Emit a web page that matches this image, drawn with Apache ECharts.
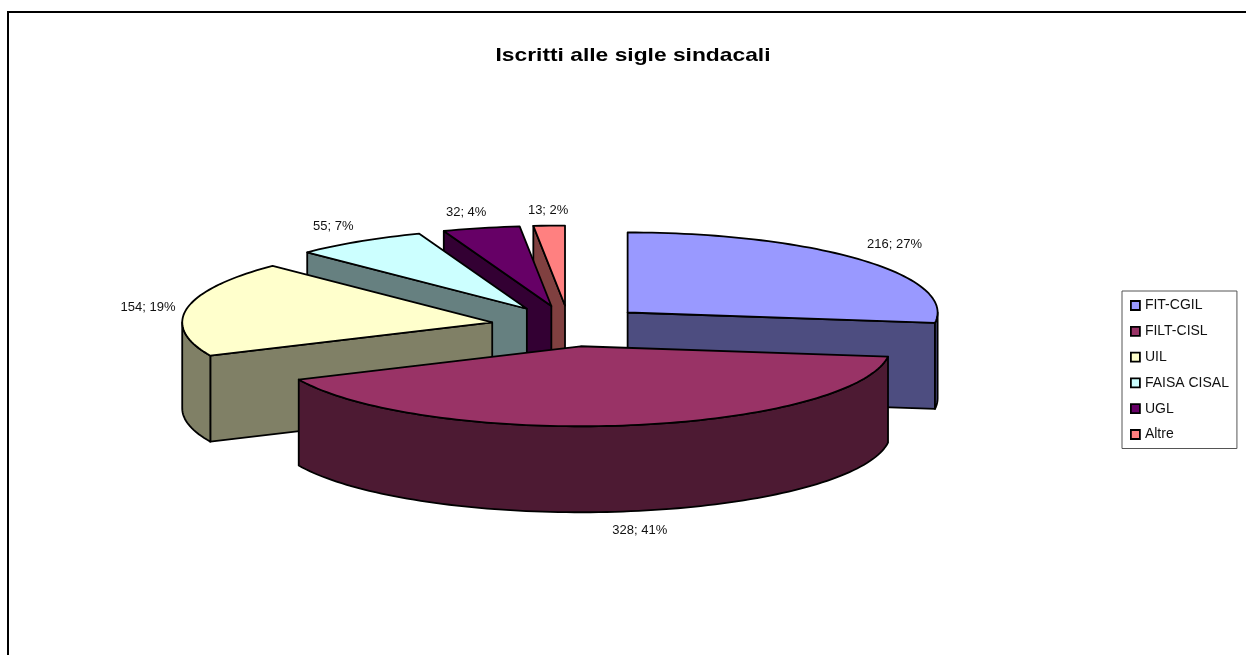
<!DOCTYPE html>
<html>
<head>
<meta charset="utf-8">
<script src="https://cdn.jsdelivr.net/npm/echarts@6/dist/echarts.min.js"></script>
<style>html,body{margin:0;padding:0;background:#fff}#c{width:1246px;height:655px}</style>
</head>
<body>
<div id="c"></div>
<script>
// Data
const chartTitle = 'Iscritti alle sigle sindacali';
const categories = ['FIT-CGIL', 'FILT-CISL', 'UIL', 'FAISA CISAL', 'UGL', 'Altre'];
const members = [216, 328, 154, 55, 32, 13];
const percents = [27, 41, 19, 7, 4, 2];

// Style
const topColors = ['#9999ff', '#993366', '#ffffcc', '#ccffff', '#660066', '#ff8080'];
const sideColors = ['#4d4d80', '#4d1a33', '#808066', '#668080', '#330033', '#804040'];
const drawOrder = [5, 4, 3, 0, 2, 1];
const labelNudges = [[34, -15], [13, 19], [-39, -1], [-26, -15], [-15, -16], [-1, -15]];

// Pie projection
const pie = { cx: 569, cy: 326, rx: 310, ry: 80, depth: 86, explodeX: 78, explodeY: 20.5 };
const total = members.reduce((a, b) => a + b, 0);
const rad = d => d * Math.PI / 180;
const starts = [];
members.reduce((acc, v, i) => { starts[i] = acc; return acc + v / total * 360; }, 0);

function rimPath(c, a0, a1, dy) {
  const pts = [];
  const n = Math.max(2, Math.ceil((a1 - a0) / 1.5));
  for (let k = 0; k <= n; k++) {
    const a = rad(a0 + (a1 - a0) * k / n);
    pts.push([c[0] + pie.rx * Math.sin(a), c[1] - pie.ry * Math.cos(a) + dy]);
  }
  return pts;
}

function renderSlice(params, api) {
  const idx = api.value(1);
  const value = api.value(0);
  const a0 = starts[idx];
  const a1 = a0 + value / total * 360;
  const mid = rad((a0 + a1) / 2);
  const c = [pie.cx + pie.explodeX * Math.sin(mid), pie.cy - pie.explodeY * Math.cos(mid)];
  const line = { stroke: '#000', lineWidth: 1.8, lineJoin: 'round' };
  const side = Object.assign({ fill: sideColors[idx] }, line);
  const top = Object.assign({ fill: topColors[idx] }, line);
  const children = [];
  const wall = a => {
    const p = rimPath(c, a, a, 0)[0];
    return [c, p, [p[0], p[1] + pie.depth], [c[0], c[1] + pie.depth]];
  };
  // only the radial walls that face the viewer are drawn
  if (Math.sin(rad(a0)) < -1e-6) children.push({ type: 'polygon', shape: { points: wall(a0) }, style: side });
  if (Math.sin(rad(a1)) > 1e-6) children.push({ type: 'polygon', shape: { points: wall(a1) }, style: side });
  const f0 = Math.max(a0, 90), f1 = Math.min(a1, 270);
  if (f1 > f0) {
    const upper = rimPath(c, f0, f1, 0);
    const lower = rimPath(c, f0, f1, pie.depth).reverse();
    children.push({ type: 'polygon', shape: { points: upper.concat(lower) }, style: side });
  }
  children.push({ type: 'polygon', shape: { points: [c].concat(rimPath(c, a0, a1, 0)) }, style: top });
  const front = Math.cos(mid) < -0.5 ? pie.depth : 0;
  const lx = c[0] + pie.rx * Math.sin(mid) + labelNudges[idx][0];
  const ly = c[1] - pie.ry * Math.cos(mid) + front + labelNudges[idx][1];
  children.push({
    type: 'text',
    style: {
      x: lx, y: ly, text: value + '; ' + percents[idx] + '%',
      fill: '#111', font: '13px "Liberation Sans", Arial, sans-serif',
      align: 'center', verticalAlign: 'middle'
    }
  });
  return { type: 'group', children };
}

const chart = echarts.init(document.getElementById('c'), null, { renderer: 'canvas' });
chart.setOption({
  animation: false,
  backgroundColor: '#fff',
  legend: {
    orient: 'vertical', left: 1122, top: 291,
    data: categories, selectedMode: false,
    icon: 'rect', itemWidth: 9, itemHeight: 9, itemGap: 11.8,
    padding: [7.5, 8, 7, 8],
    borderColor: '#555', borderWidth: 1, backgroundColor: '#fff',
    itemStyle: { borderColor: '#000', borderWidth: 1.8 },
    textStyle: { fontFamily: '"Liberation Sans", Arial, sans-serif', fontSize: 14, color: '#111' }
  },
  graphic: [{
    type: 'polyline',
    shape: { points: [[8, 655], [8, 12], [1246, 12]] },
    style: { stroke: '#000', lineWidth: 2, fill: null }
  }, {
    type: 'text',
    x: 633, y: 56, scaleX: 1.2, scaleY: 1,
    style: {
      text: chartTitle, x: 0, y: 0, fill: '#000',
      font: 'bold 19px "Liberation Sans", Arial, sans-serif',
      align: 'center', verticalAlign: 'middle'
    }
  }],
  series: drawOrder.map(i => ({
    type: 'custom',
    name: categories[i],
    coordinateSystem: 'none',
    itemStyle: { color: topColors[i] },
    silent: true,
    data: [[members[i], i]],
    renderItem: renderSlice
  }))
});
</script>
</body>
</html>
